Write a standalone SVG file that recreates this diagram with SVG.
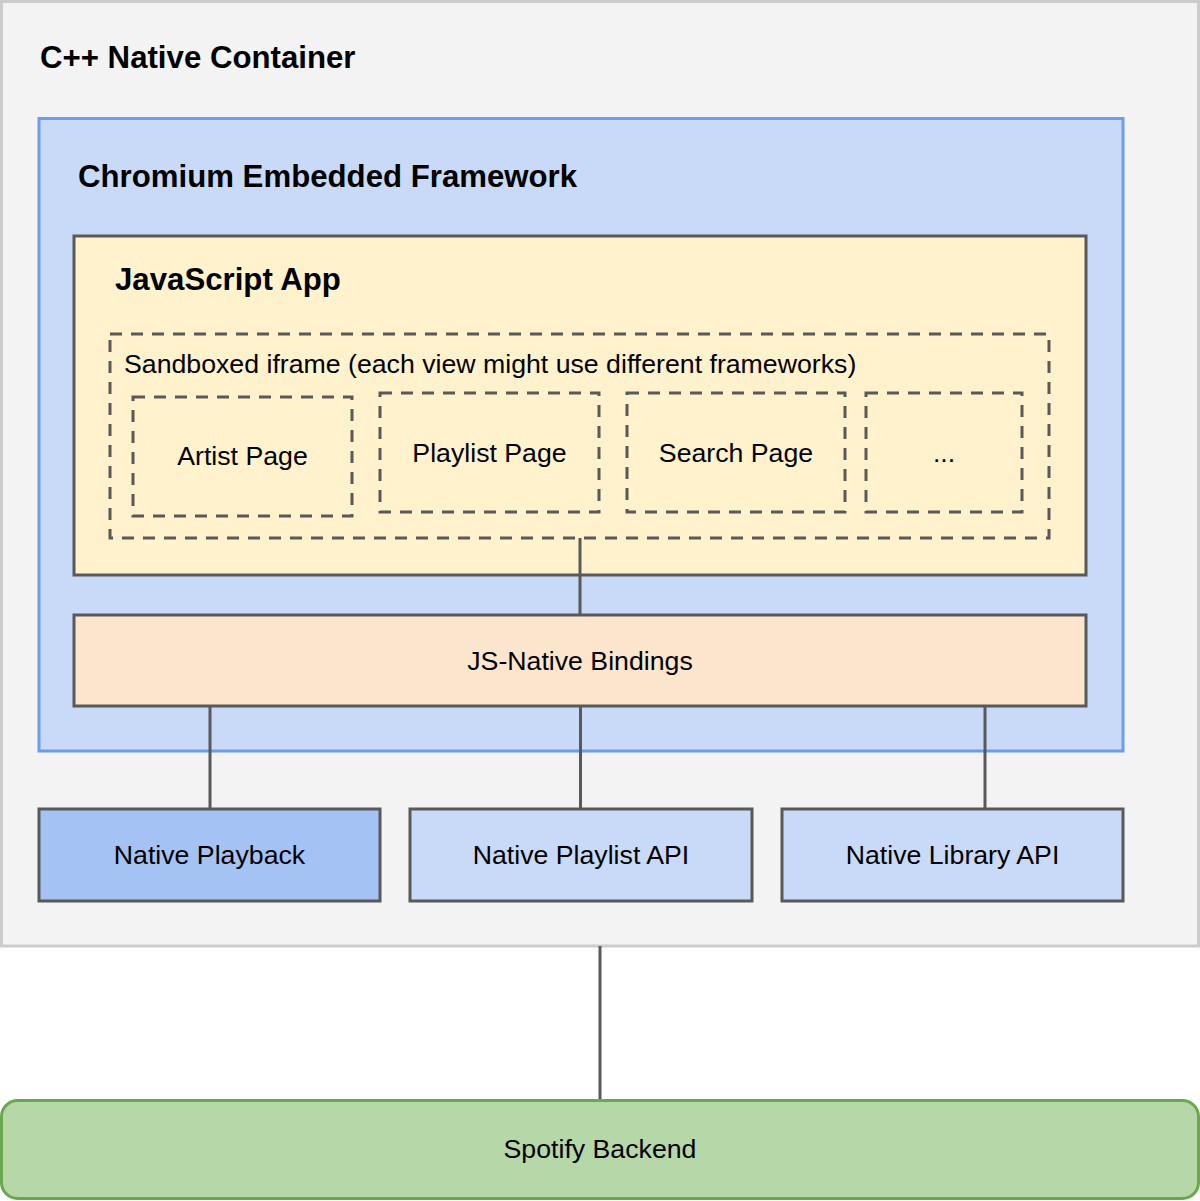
<svg xmlns="http://www.w3.org/2000/svg" width="1200" height="1201" viewBox="0 0 1200 1201">
<style>
.t{font-family:"Liberation Sans",Arial,sans-serif;font-size:26.7px;fill:#000;text-anchor:middle}
.b{font-family:"Liberation Sans",Arial,sans-serif;font-size:31.2px;font-weight:bold;fill:#000}
.box{stroke:#595959;stroke-width:3}
.dash{fill:none;stroke:#595959;stroke-width:3;stroke-dasharray:12 9}
.conn{stroke:#595959;stroke-width:3;fill:none}
</style>
<rect width="1200" height="1201" fill="#ffffff"/>
<g id="native-container">
<rect x="1.5" y="1.5" width="1197" height="944.5" fill="#f3f3f3" stroke="#cccccc" stroke-width="3"/>
<text class="b" x="40" y="68">C++ Native Container</text>
</g>
<g id="cef">
<rect x="39" y="118.5" width="1084" height="632.5" fill="#c9daf8" stroke="#6d9eeb" stroke-width="3"/>
<text class="b" x="78" y="187">Chromium Embedded Framework</text>
</g>
<g id="js-app">
<rect class="box" x="74" y="236" width="1012" height="339" fill="#fff2cc"/>
<text class="b" x="115" y="290">JavaScript App</text>
</g>
<g id="sandbox">
<rect class="dash" x="110" y="334" width="939" height="204"/>
<text class="t" x="124" y="373" style="text-anchor:start">Sandboxed iframe (each view might use different frameworks)</text>
</g>
<g id="artist-page">
<rect class="dash" x="133" y="397" width="219" height="119"/>
<text class="t" x="242.5" y="465">Artist Page</text>
</g>
<g id="playlist-page">
<rect class="dash" x="380" y="393" width="219" height="119"/>
<text class="t" x="489.5" y="462">Playlist Page</text>
</g>
<g id="search-page">
<rect class="dash" x="627" y="393" width="218" height="119"/>
<text class="t" x="736" y="462">Search Page</text>
</g>
<g id="more-pages">
<rect class="dash" x="866" y="393" width="156" height="119"/>
<text class="t" x="944" y="462">...</text>
</g>
<g id="connectors">
<line class="conn" x1="580" y1="538" x2="580" y2="615"/>
<line class="conn" x1="210" y1="706" x2="210" y2="809"/>
<line class="conn" x1="580.5" y1="706" x2="580.5" y2="809"/>
<line class="conn" x1="985" y1="706" x2="985" y2="809"/>
<line class="conn" x1="600" y1="946" x2="600" y2="1100"/>
</g>
<g id="bindings">
<rect class="box" x="74" y="615" width="1012" height="91" fill="#fce5cd"/>
<text class="t" x="580" y="670">JS-Native Bindings</text>
</g>
<g id="native-playback">
<rect class="box" x="39" y="809" width="341" height="92" fill="#a4c2f4"/>
<text class="t" x="209.5" y="864">Native Playback</text>
</g>
<g id="native-playlist-api">
<rect class="box" x="410" y="809" width="342" height="92" fill="#c9daf8"/>
<text class="t" x="581" y="864">Native Playlist API</text>
</g>
<g id="native-library-api">
<rect class="box" x="782" y="809" width="341" height="92" fill="#c9daf8"/>
<text class="t" x="952.5" y="864">Native Library API</text>
</g>
<g id="spotify-backend">
<rect x="1.5" y="1100.5" width="1197" height="98" rx="16" fill="#b6d7a8" stroke="#6aa84f" stroke-width="3"/>
<text class="t" x="600" y="1158">Spotify Backend</text>
</g>
</svg>
